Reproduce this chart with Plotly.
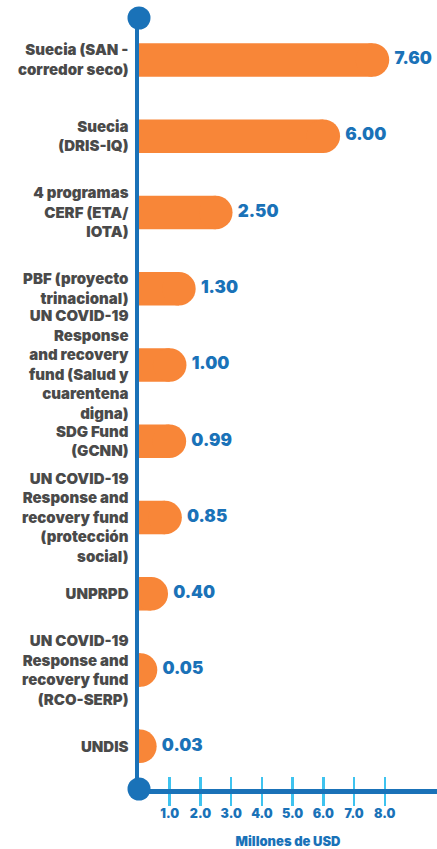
import plotly.graph_objects as go

categories = [
    "Suecia (SAN -<br>corredor seco)",
    "Suecia<br>(DRIS-IQ)",
    "4 programas<br>CERF (ETA/<br>IOTA)",
    "PBF (proyecto<br>trinacional)",
    "UN COVID-19<br>Response<br>and recovery<br>fund (Salud y<br>cuarentena<br>digna)",
    "SDG Fund<br>(GCNN)",
    "UN COVID-19<br>Response and<br>recovery fund<br>(protección<br>social)",
    "UNPRPD",
    "UN COVID-19<br>Response and<br>recovery fund<br>(RCO-SERP)",
    "UNDIS",
]
values = [7.60, 6.00, 2.50, 1.30, 1.00, 0.99, 0.85, 0.40, 0.05, 0.03]
tick_vals = [1, 2, 3, 4, 5, 6, 7, 8]
x_title = "Millones de USD"

ORANGE = "#F88638"
BLUE = "#1A72B8"
CYAN = "#3EC3EF"
GREY = "#4A4A4A"
FONT = "Inter"
XMAX = 9.7

fig = go.Figure()
fig.add_trace(go.Bar(
    x=values, y=categories, orientation="h",
    marker=dict(color=ORANGE, line=dict(width=0)),
    width=0.44, hoverinfo="skip",
))
fig.add_trace(go.Scatter(
    x=values, y=categories, mode="markers+text",
    marker=dict(color=ORANGE, size=33.5, line=dict(width=0)),
    text=[f"{v:.2f}" for v in values],
    textposition="middle right",
    textfont=dict(family=FONT, size=17, color=BLUE, weight=900),
    cliponaxis=True, hoverinfo="skip",
))

fig.update_layout(
    width=437, height=849,
    margin=dict(l=139, r=0, t=18, b=60, autoexpand=False),
    plot_bgcolor="white", paper_bgcolor="white",
    showlegend=False,
    xaxis=dict(
        range=[0, XMAX], showgrid=False, zeroline=False, automargin=False,
        showline=True, linecolor=BLUE, linewidth=4.5,
        tickvals=tick_vals, tickformat=".1f",
        ticks="outside", ticklen=12, tickwidth=2.5, tickcolor=CYAN,
        ticklabelstandoff=-3,
        tickfont=dict(family=FONT, size=12.5, color=BLUE, weight=900),
        title=dict(text=x_title, standoff=19,
                   font=dict(family=FONT, size=13, color=BLUE, weight=900)),
        fixedrange=True,
    ),
    xaxis2=dict(
        range=[0, XMAX], overlaying="x", anchor="y", side="bottom",
        showgrid=False, zeroline=False, showline=False, automargin=False,
        tickvals=tick_vals, showticklabels=False,
        ticks="inside", ticklen=12, tickwidth=2.5, tickcolor=CYAN,
    ),
    yaxis=dict(
        range=[9.56, -0.55], showgrid=False, zeroline=False, automargin=False,
        showline=True, linecolor=BLUE, linewidth=4.5,
        ticks="", ticklabelstandoff=3,
        tickfont=dict(family=FONT, size=15, color=GREY, weight=900),
        fixedrange=True,
    ),
    shapes=[
        dict(type="circle", xref="paper", yref="paper",
             xsizemode="pixel", ysizemode="pixel", xanchor=0, yanchor=1,
             x0=-11.5, x1=11.5, y0=-11.5, y1=11.5,
             fillcolor=BLUE, line=dict(width=0), layer="above"),
        dict(type="circle", xref="paper", yref="paper",
             xsizemode="pixel", ysizemode="pixel", xanchor=0, yanchor=0,
             x0=-11.5, x1=11.5, y0=-11.5, y1=11.5,
             fillcolor=BLUE, line=dict(width=0), layer="above"),
    ],
)
fig.add_trace(go.Scatter(x=[], y=[], xaxis="x2", showlegend=False))

fig.write_html(
    "out.html",
    config={"displayModeBar": False, "staticPlot": True},
    post_script="document.body.style.margin='0';document.body.style.overflow='hidden';",
)
